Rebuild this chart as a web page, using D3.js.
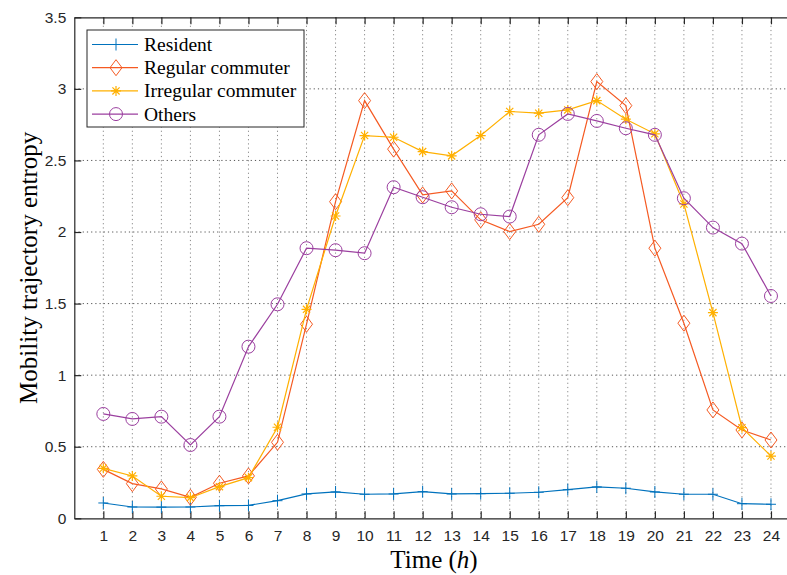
<!DOCTYPE html>
<html lang="en">
<head>
  <meta charset="UTF-8">
  <title>Mobility trajectory entropy by hour</title>
  <script src="https://d3js.org/d3.v7.min.js"></script>
  <style>
    body { margin: 0; background: #fff; }
    svg { display: block; }
    .tick text { font-family: 'Liberation Sans', Arial, sans-serif; font-size: 15.5px; fill: #262626; }
  </style>
</head>
<body>
  <div id="chart"></div>
  <script>
    const hours = d3.range(1, 25);
    const resident = [0.107, 0.079, 0.078, 0.079, 0.088, 0.09, 0.123, 0.17, 0.184, 0.168, 0.17, 0.186,
      0.17, 0.172, 0.175, 0.182, 0.2, 0.219, 0.21, 0.184, 0.168, 0.168, 0.102, 0.098];
    const regular = [0.342, 0.242, 0.205, 0.147, 0.245, 0.296, 0.531, 1.356, 2.212, 2.918, 2.579, 2.259,
      2.287, 2.085, 2.003, 2.054, 2.24, 3.051, 2.883, 1.887, 1.363, 0.757, 0.617, 0.547];
    const irregular = [0.349, 0.296, 0.154, 0.144, 0.221, 0.284, 0.636, 1.46, 2.112, 2.674, 2.662, 2.562,
      2.532, 2.674, 2.842, 2.83, 2.853, 2.918, 2.788, 2.686, 2.196, 1.437, 0.633, 0.435];
    const others = [0.729, 0.694, 0.71, 0.512, 0.71, 1.199, 1.495, 1.887, 1.873, 1.852, 2.313, 2.243,
      2.173, 2.124, 2.108, 2.679, 2.825, 2.776, 2.725, 2.679, 2.236, 2.031, 1.919, 1.553];
    const yTicks = [0, 0.5, 1, 1.5, 2, 2.5, 3, 3.5];

    const series = [
      { name: "Resident", values: resident, color: "#0072BD", marker: "plus" },
      { name: "Regular commuter", values: regular, color: "#F55A22", marker: "diamond" },
      { name: "Irregular commuter", values: irregular, color: "#FFB000", marker: "star" },
      { name: "Others", values: others, color: "#9B3F9F", marker: "circle" }
    ];

    const width = 787, height = 575;
    const plotLeft = 74.3, plotTop = 17.3, plotBottom = 518.3, plotRight = 800;

    const svg = d3.select("#chart").append("svg")
      .attr("width", width).attr("height", height);

    const x = d3.scaleLinear().domain([0, 25]).range([plotLeft, plotRight]);
    const y = d3.scaleLinear().domain([0, 3.5]).range([plotBottom, plotTop]);

    // grid
    const grid = svg.append("g").attr("stroke", "#8a8a8a").attr("stroke-width", 1)
      .attr("stroke-dasharray", "1.2,3");
    grid.selectAll(".vg").data(hours).join("line")
      .attr("x1", d => x(d)).attr("x2", d => x(d))
      .attr("y1", plotTop).attr("y2", plotBottom);
    grid.selectAll(".hg").data(yTicks.slice(1, -1)).join("line")
      .attr("x1", plotLeft).attr("x2", plotRight)
      .attr("y1", d => y(d)).attr("y2", d => y(d))
      .attr("stroke", "#555");

    // axes
    const xAxis = svg.append("g").attr("transform", `translate(0,${plotBottom})`)
      .call(d3.axisBottom(x).tickValues(hours).tickSizeInner(-7).tickSizeOuter(0).tickPadding(12));
    const xTop = svg.append("g").attr("transform", `translate(0,${plotTop})`)
      .call(d3.axisTop(x).tickValues(hours).tickSizeInner(-7).tickSizeOuter(0).tickFormat(""));
    const yAxis = svg.append("g").attr("transform", `translate(${plotLeft},0)`)
      .call(d3.axisLeft(y).tickValues(yTicks).tickFormat(d3.format("")).tickSizeInner(-7).tickSizeOuter(0).tickPadding(8));
    [xAxis, xTop, yAxis].forEach(a => {
      a.select(".domain").attr("stroke", "#262626").attr("stroke-width", 1.2);
      a.selectAll(".tick line").attr("stroke", "#262626").attr("stroke-width", 1.2);
    });
    xAxis.selectAll(".tick text").attr("y", 12);
    yAxis.selectAll(".tick text").attr("x", -8);

    // axis titles
    svg.append("text")
      .attr("x", 434).attr("y", 568)
      .attr("text-anchor", "middle")
      .attr("font-family", "'Liberation Serif', 'Times New Roman', serif")
      .attr("font-size", 25).attr("fill", "#000")
      .html('Time (<tspan font-style="italic">h</tspan>)');
    svg.append("text")
      .attr("transform", `translate(37,${(plotTop + plotBottom) / 2}) rotate(-90)`)
      .attr("text-anchor", "middle")
      .attr("font-family", "'Liberation Serif', 'Times New Roman', serif")
      .attr("font-size", 25).attr("fill", "#000")
      .text("Mobility trajectory entropy");

    function drawMarker(g, type, color) {
      if (type === "plus") {
        g.append("path").attr("d", "M-5,0H5M0,-6V6").attr("stroke", color).attr("fill", "none").attr("stroke-width", 1);
      } else if (type === "diamond") {
        g.append("path").attr("d", "M0,-8L6,0L0,8L-6,0Z").attr("stroke", color).attr("fill", "none").attr("stroke-width", 1);
      } else if (type === "star") {
        g.append("path").attr("d", "M-5,0H5M0,-5V5M-3.6,-3.6L3.6,3.6M-3.6,3.6L3.6,-3.6")
          .attr("stroke", color).attr("fill", "none").attr("stroke-width", 1.2);
      } else {
        g.append("circle").attr("r", 6.5).attr("stroke", color).attr("fill", "none").attr("stroke-width", 1);
      }
    }

    const line = d3.line().x((d, i) => x(hours[i])).y(d => y(d));

    series.forEach(s => {
      svg.append("path").datum(s.values)
        .attr("d", line)
        .attr("fill", "none")
        .attr("stroke", s.color)
        .attr("stroke-width", 1.2);
      s.values.forEach((v, i) => {
        const g = svg.append("g").attr("transform", `translate(${x(hours[i])},${y(v)})`);
        drawMarker(g, s.marker, s.color);
      });
    });

    // legend
    const lg = svg.append("g").attr("transform", "translate(87,30)");
    lg.append("rect").attr("width", 217).attr("height", 97)
      .attr("fill", "#fff").attr("stroke", "#262626").attr("stroke-width", 1);
    series.forEach((s, i) => {
      const row = lg.append("g").attr("transform", `translate(0,${14.5 + i * 23.2})`);
      row.append("line").attr("x1", 5).attr("x2", 51).attr("y1", 0).attr("y2", 0)
        .attr("stroke", s.color).attr("stroke-width", 1.2);
      const m = row.append("g").attr("transform", "translate(29,0)");
      drawMarker(m, s.marker, s.color);
      row.append("text").attr("x", 57).attr("y", 6.5)
        .attr("font-family", "'Liberation Serif', 'Times New Roman', serif")
        .attr("font-size", 19.5).attr("fill", "#000")
        .text(s.name);
    });
  </script>
</body>
</html>
